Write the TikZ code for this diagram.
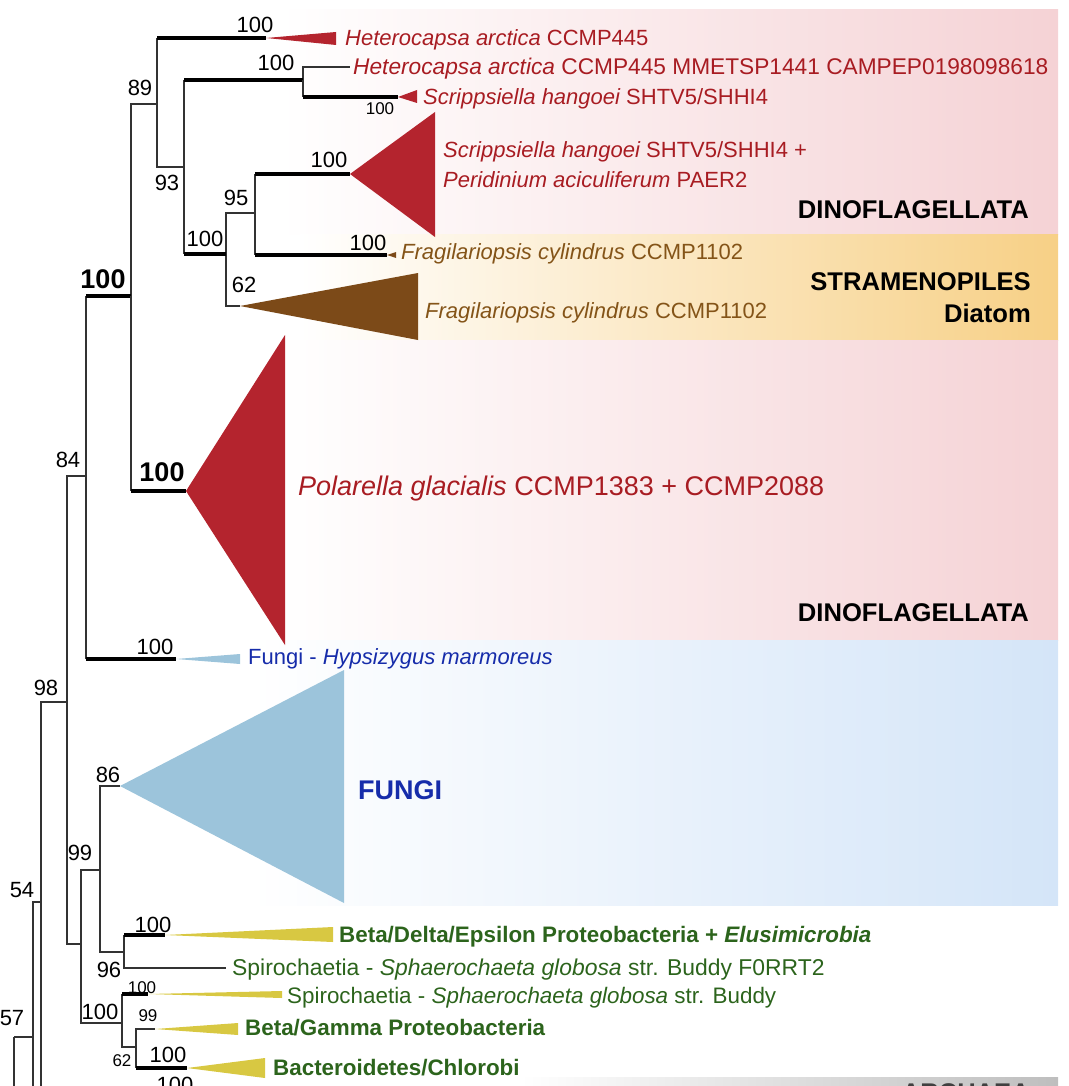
\documentclass[tikz,border=0pt]{standalone}
\usepackage{fontspec}
\setmainfont{Liberation Sans}
\definecolor{dred}{RGB}{180,36,46}
\definecolor{tred}{RGB}{168,28,34}
\definecolor{brn}{RGB}{124,74,24}
\definecolor{tbrn}{RGB}{132,84,24}
\definecolor{lblue}{RGB}{156,196,219}
\definecolor{tblue}{RGB}{22,44,170}
\definecolor{ylw}{RGB}{216,200,66}
\definecolor{tgrn}{RGB}{44,100,28}
\definecolor{pinkbg}{RGB}{245,210,213}
\definecolor{orgbg}{RGB}{247,208,134}
\definecolor{bluebg}{RGB}{212,229,248}
\definecolor{graybg}{RGB}{190,190,190}
\tikzset{
  br/.style={draw=black!80, line width=1.1pt},
  thk/.style={draw=black, line width=4.5pt},
  sp/.style={anchor=west, inner sep=0pt, text height=15.8pt, text depth=0pt, font=\fontsize{22}{26}\selectfont},
  spg/.style={sp, text=tgrn, font=\fontsize{22.4}{26}\selectfont},
  spgb/.style={sp, text=tgrn, font=\fontsize{22.4}{26}\selectfont\bfseries},
  bs/.style={inner sep=0pt, text height=15.5pt, text depth=0pt, font=\fontsize{22}{25}\selectfont},
  bss/.style={inner sep=0pt, text height=12pt, text depth=0pt, font=\fontsize{17}{20}\selectfont},
  bsb/.style={inner sep=0pt, text height=19.5pt, text depth=0pt, font=\fontsize{27}{30}\selectfont\bfseries},
  grp/.style={anchor=east, inner sep=0pt, text height=18.5pt, text depth=0pt, font=\fontsize{25.6}{28}\selectfont\bfseries},
}
\begin{document}
\begin{tikzpicture}[x=1pt,y=-1pt]
\useasboundingbox (0,0) rectangle (1068,1086);
\clip (0,0) rectangle (1068,1086);
% background bands
\shade[left color=white, right color=pinkbg] (280,10) rectangle (1058,234);
\shade[left color=white, right color=orgbg] (300,234) rectangle (1058,340);
\shade[left color=white, right color=pinkbg] (280,340) rectangle (1058,640);
\shade[left color=white, right color=bluebg] (250,640) rectangle (1058,905);
\shade[left color=white, right color=graybg] (520,1077) rectangle (1058,1100);
% internal nodes
\coordinate (A) at (14,1037);
\coordinate (Aend) at (14,1100);
\coordinate (B) at (33,1037);
\coordinate (Bend) at (33,1100);
\coordinate (C) at (41,902);
\coordinate (Cend) at (41,1100);
\coordinate (D) at (67,702);
\coordinate (E) at (86,476);
\coordinate (F) at (81,944);
\coordinate (G) at (131,296);
\coordinate (H) at (157,104);
\coordinate (I) at (184,167);
\coordinate (J) at (303,80);
\coordinate (K) at (226,254);
\coordinate (L) at (255,213);
\coordinate (M) at (100,870);
\coordinate (N) at (122,1023);
\coordinate (O) at (124,952);
\coordinate (P) at (136,1047);
% tips
\coordinate (tHA) at (266,38);
\coordinate (tHB) at (350,67);
\coordinate (tSH) at (398,97);
\coordinate (tSP) at (350,174);
\coordinate (tFC) at (387,255);
\coordinate (tFB) at (240,306);
\coordinate (tPG) at (186,491);
\coordinate (tHM) at (176,659);
\coordinate (tFU) at (120,786);
\coordinate (tBD) at (165,935);
\coordinate (tSG) at (226,968);
\coordinate (tSB) at (148,994);
\coordinate (tBG) at (155,1029);
\coordinate (tBC) at (187,1068);
% triangles (collapsed clades)
\fill[dred] (tHA) -- (336,32) -- (336,45) -- cycle;
\fill[dred] (tSH) -- (417,90) -- (417,103) -- cycle;
\fill[dred] (tSP) -- (435,112) -- (435,237) -- cycle;
\fill[brn] (tFC) -- (396,252) -- (396,258) -- cycle;
\fill[brn] (tFB) -- (418,273) -- (418,340) -- cycle;
\fill[dred] (tPG) -- (285,335) -- (285,645) -- cycle;
\fill[lblue] (tHM) -- (240,654) -- (240,664) -- cycle;
\fill[lblue] (tFU) -- (344,670) -- (344,903) -- cycle;
\fill[ylw] (tBD) -- (333,927) -- (333,942) -- cycle;
\fill[ylw] (tSB) -- (282,991) -- (282,998) -- cycle;
\fill[ylw] (tBG) -- (238,1023) -- (238,1035) -- cycle;
\fill[ylw] (tBC) -- (265,1058) -- (265,1078) -- cycle;
% thin branches
\draw[br] (A) -- (Aend);
\draw[br] (A) -- (B);
\draw[br] (B) -- (Bend);
\draw[br] (B) |- (C);
\draw[br] (C) -- (Cend);
\draw[br] (C) |- (D);
\draw[br] (D) |- (E);
\draw[br] (D) |- (F);
\draw[br] (G) |- (H);
\draw[br] (H) |- (I);
\draw[br] (J) |- (tHB);
\draw[br] (K) |- (L);
\draw[br] (K) |- (tFB);
\draw[br] (F) |- (M);
\draw[br] (F) |- (N);
\draw[br] (M) |- (tFU);
\draw[br] (M) |- (O);
\draw[br] (O) |- (tSG);
\draw[br] (N) |- (P);
\draw[br] (P) |- (tBG);
% thick branches (vertical part thin)
\foreach \p/\c in {E/G, E/tHM, G/tPG, H/tHA, I/J, I/K, J/tSH, L/tSP, L/tFC, O/tBD, N/tSB, P/tBC}{
  \draw[br] (\p) -- (\p |- \c);
  \draw[thk] (\p |- \c) -- (\c);
}
% bootstrap values
\node[bs] (b1) at (255,25) {100};
\node[bs] (b2) at (140,88) {89};
\node[bs] (b3) at (276,63) {100};
\node[bss] (b4) at (380,109) {100};
\node[bs] (b5) at (167,183) {93};
\node[bs] (b6) at (329,160) {100};
\node[bs] (b7) at (236,198) {95};
\node[bs] (b8) at (205,239) {100};
\node[bs] (b9) at (368,243) {100};
\node[bs] (b10) at (244,285) {62};
\node[bsb] (b11) at (103,279) {100};
\node[bsb] (b12) at (162,472) {100};
\node[bs] (b13) at (68,460) {84};
\node[bs] (b14) at (155,647) {100};
\node[bs] (b15) at (46,688) {98};
\node[bs] (b16) at (108,775) {86};
\node[bs] (b17) at (80,853) {99};
\node[bs] (b18) at (22,890) {54};
\node[bs] (b19) at (153,925) {100};
\node[bs] (b20) at (109,970) {96};
\node[bss] (b21) at (142,987) {100};
\node[bs] (b22) at (100,1012) {100};
\node[bs] (b23) at (12,1018) {57};
\node[bss] (b24) at (148,1015) {99};
\node[bss] (b25) at (122,1060) {62};
\node[bs] (b26) at (168,1055) {100};
\node[bs] (b27) at (175,1085) {100};
% taxon labels
\node[sp, text=tred] (l1) at (345,38) {\itshape Heterocapsa arctica\upshape{} CCMP445};
\node[sp, text=tred, font=\fontsize{22.7}{26}\selectfont] (l2) at (353,67) {\itshape Heterocapsa arctica\upshape{} CCMP445 MMETSP1441 CAMPEP0198098618};
\node[sp, text=tred] (l3) at (423,97) {\itshape Scrippsiella hangoei\upshape{} SHTV5/SHHI4};
\node[sp, text=tred] (l4) at (443,150) {\itshape Scrippsiella hangoei\upshape{} SHTV5/SHHI4 +};
\node[sp, text=tred] (l5) at (443,180) {\itshape Peridinium aciculiferum\upshape{} PAER2};
\node[sp, text=tbrn] (l6) at (401,252) {\itshape Fragilariopsis cylindrus\upshape{} CCMP1102};
\node[sp, text=tbrn] (l7) at (425,311) {\itshape Fragilariopsis cylindrus\upshape{} CCMP1102};
\node[sp, text=tred, text height=19.5pt, font=\fontsize{27}{30}\selectfont] (l8) at (298,486) {\itshape Polarella glacialis\upshape{} CCMP1383 + CCMP2088};
\node[sp, text=tblue] (l9) at (248,657) {Fungi - \itshape Hypsizygus marmoreus};
\node[sp, text=tblue, text height=19.5pt, font=\fontsize{27}{30}\selectfont\bfseries] (l10) at (358,790) {FUNGI};
\node[spgb] (l11) at (339,935) {Beta/Delta/Epsilon Proteobacteria + \itshape Elusimicrobia};
\node[spg, font=\fontsize{22.9}{26}\selectfont] (l12) at (232,968) {Spirochaetia - \itshape Sphaerochaeta globosa\upshape{} str. Buddy F0RRT2};
\node[spg] (l13) at (287,996) {Spirochaetia - \itshape Sphaerochaeta globosa\upshape{} str. Buddy};
\node[spgb] (l14) at (245,1028) {Beta/Gamma Proteobacteria};
\node[spgb] (l15) at (273,1068) {Bacteroidetes/Chlorobi};
% group labels
\node[grp] (g1) at (1029,209) {DINOFLAGELLATA};
\node[grp] (g2) at (1031,281) {STRAMENOPILES};
\node[grp] (g3) at (1031,313) {Diatom};
\node[grp] (g4) at (1029,612) {DINOFLAGELLATA};
\node[grp, text=black!75] (g5) at (1030,1092) {ARCHAEA};
\end{tikzpicture}
\end{document}
